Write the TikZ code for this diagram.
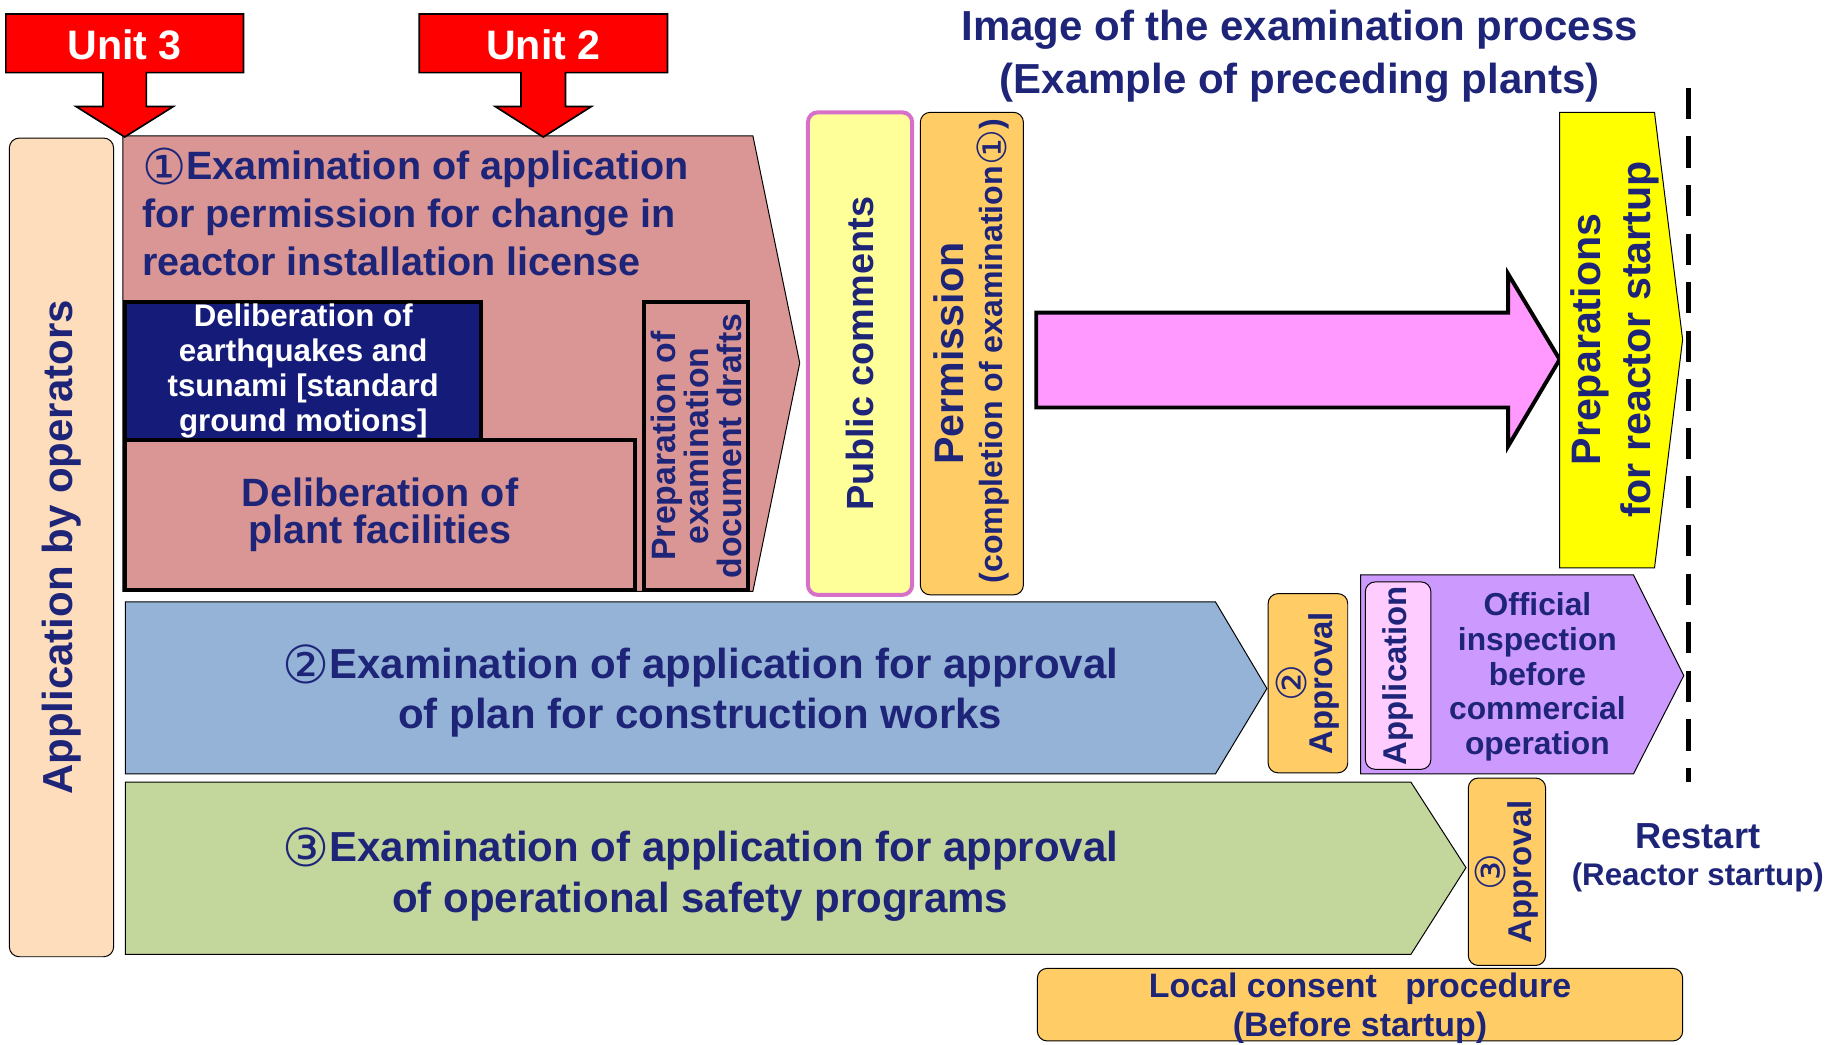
\documentclass[tikz,border=0pt]{standalone}
\usepackage{fontspec}
\setmainfont{Liberation Sans}
\newfontfamily\circfont{DejaVu Sans}
\usepackage{tikz}
\usetikzlibrary{positioning}

\definecolor{navytext}{RGB}{30,37,120}
\definecolor{quakenavy}{RGB}{21,27,120}
\definecolor{unitred}{RGB}{255,0,0}
\definecolor{peach}{RGB}{253,221,187}
\definecolor{rose}{RGB}{217,150,148}
\definecolor{planblue}{RGB}{149,179,215}
\definecolor{safegreen}{RGB}{195,214,155}
\definecolor{paleyellow}{RGB}{255,255,153}
\definecolor{orchidline}{RGB}{215,112,200}
\definecolor{apricot}{RGB}{255,204,102}
\definecolor{pinkarrow}{RGB}{255,153,255}
\definecolor{lilac}{RGB}{204,153,255}
\definecolor{palepink}{RGB}{255,204,255}
\definecolor{startyellow}{RGB}{255,255,0}

\newcommand{\fsize}[2]{\fontsize{#1}{#2}\selectfont}
\newcommand{\cnum}[1]{{\circfont\mdseries\raisebox{-0.12em}{\scalebox{1.25}{#1}}}}

\begin{document}
\begin{tikzpicture}[x=0.025cm, y=-0.025cm,
plainbox/.style={draw=black, line width=0.6pt, inner sep=0pt},
roundbox/.style={plainbox, rounded corners=6pt},
heavybox/.style={draw=black, line width=2.4pt, inner sep=0pt},
navytxt/.style={text=navytext, align=center, inner sep=0pt},
unitarrow/.style={draw=black, line width=1pt, fill=unitred}
]
\useasboundingbox (0,0) rectangle (1568,892);

%Title
\node[navytxt, font=\bfseries\fsize{25.5}{32.5}] (title) at (1110,48)
  {Image of the examination process\\(Example of preceding plants)};

%Application by operators
\node[roundbox, fill=peach, rotate=90, minimum width=17.475cm, minimum height=2.225cm,
  text=navytext, font=\bfseries\fsize{25.5}{30}] (appl) at (52.5,467.5) {Application by operators};

%Examination 1
\draw[plainbox, fill=rose] (105,116) -- (643,116) -- (683,310) -- (643,505) -- (105,505) -- cycle;
\node[navytxt, align=left, anchor=west, font=\bfseries\fsize{24}{29}] (exam1) at (121,181)
  {\cnum{①}Examination of application\\for permission for change in\\reactor installation license};
\node[heavybox, fill=quakenavy, minimum width=7.6cm, minimum height=2.95cm,
  text=white, align=center, font=\bfseries\fsize{19}{21.3}] (quake) at (259,317)
  {Deliberation of\\earthquakes and\\tsunami [standard\\ground motions]};
\node[heavybox, fill=rose, minimum width=10.875cm, minimum height=3.2cm,
  text=navytext, align=center, font=\bfseries\fsize{24}{22.5}] (plant) at (324.5,440)
  {Deliberation of\\plant facilities};
\node[heavybox, fill=rose, rotate=90, minimum width=6.15cm, minimum height=2.225cm,
  text=navytext, align=center, font=\bfseries\fsize{20.5}{20}] (drafts) at (594.5,381)
  {Preparation of\\examination\\document drafts};

%Public comments and permission
\node[roundbox, draw=orchidline, line width=2.4pt, fill=paleyellow, rotate=90,
  minimum width=10.3cm, minimum height=2.225cm,
  text=navytext, font=\bfseries\fsize{23}{28}] (public) at (734.5,302) {Public comments};
\node[roundbox, fill=apricot, rotate=90, minimum width=10.3cm, minimum height=2.2cm] (permit) at (830,302) {};
\node[navytxt, rotate=90, font=\bfseries\fsize{25}{30}] (permtxt) at (810,302) {Permission};
\node[navytxt, rotate=90, font=\bfseries\fsize{19.5}{24}] (permsub) at (848,300)
  {(completion of examination\cnum{①})};

%Arrow to startup
\draw[draw=black, line width=2.4pt, fill=pinkarrow] (885,267) -- (1288,267) -- (1288,234)
  -- (1332,307) -- (1288,381) -- (1288,348) -- (885,348) -- cycle;
\draw[plainbox, fill=startyellow] (1332,96) -- (1413,96) -- (1437,290) -- (1413,485) -- (1332,485) -- cycle;
\node[navytxt, rotate=90, font=\bfseries\fsize{25}{30.5}] (startprep) at (1379,290)
  {Preparations\\for reactor startup};

%Restart line
\coordinate (dtop) at (1442,75);
\coordinate (dbot) at (1442,668);
\draw[line width=3pt, dash pattern=on 19pt off 10.5pt] (dtop) -- (dbot);

%Examination 2
\draw[plainbox, fill=planblue] (107,514) -- (1038,514) -- (1082,588) -- (1038,661) -- (107,661) -- cycle;
\node[navytxt, font=\bfseries\fsize{25.5}{30.5}] (exam2) at (598,590)
  {\cnum{②}Examination of application for approval\\of plan for construction works};
\node[roundbox, fill=apricot, rotate=90, minimum width=3.825cm, minimum height=1.7cm,
  text=navytext, align=center, font=\bfseries\fsize{20}{14}] (appr2) at (1117,583.5)
  {\cnum{②}\\Approval};

%Official inspection
\draw[plainbox, fill=lilac] (1162,491) -- (1395,491) -- (1438,577) -- (1395,661) -- (1162,661) -- cycle;
\node[roundbox, fill=palepink, rotate=90, minimum width=4cm, minimum height=1.4cm,
  text=navytext, font=\bfseries\fsize{20}{24}] (insapp) at (1194,577) {Application};
\node[navytxt, font=\bfseries\fsize{19.3}{21}] (inspect) at (1313,578)
  {Official\\inspection\\before\\commercial\\operation};

%Examination 3
\draw[plainbox, fill=safegreen] (107,668) -- (1205,668) -- (1252,741) -- (1205,815) -- (107,815) -- cycle;
\node[navytxt, font=\bfseries\fsize{25.5}{31}] (exam3) at (598,747)
  {\cnum{③}Examination of application for approval\\of operational safety programs};
\node[roundbox, fill=apricot, rotate=90, minimum width=4cm, minimum height=1.65cm,
  text=navytext, align=center, font=\bfseries\fsize{20}{14}] (appr3) at (1287,744.5)
  {\cnum{③}\\Approval};

%Restart
\node[navytxt, font=\bfseries\fsize{22}{26}] (restart) at (1450,714) {Restart};
\node[navytxt, font=\bfseries\fsize{19}{23}] (restartsub) [below=8pt of restart] {(Reactor startup)};

%Local consent
\node[roundbox, fill=apricot, minimum width=13.775cm, minimum height=1.55cm,
  text=navytext, align=center, font=\bfseries\fsize{20.6}{24}] (consent) at (1161.5,858)
  {};
\node[navytxt, font=\bfseries\fsize{20.6}{24}] (consenttxt) at (1161.5,861)
  {Local consent\ \ \ procedure\\(Before startup)};

%Units
\draw[unitarrow] (5,12) -- (208,12) -- (208,62) -- (125,62) -- (125,91) -- (148,91)
  -- (106.5,117) -- (65,91) -- (88,91) -- (88,62) -- (5,62) -- cycle;
\node[text=white, inner sep=0pt, font=\bfseries\fsize{25}{30}] (unit3) at (106.5,38) {Unit 3};
\draw[unitarrow] (358,12) -- (570,12) -- (570,62) -- (483,62) -- (483,91) -- (505,91)
  -- (464,117) -- (423,91) -- (445,91) -- (445,62) -- (358,62) -- cycle;
\node[text=white, inner sep=0pt, font=\bfseries\fsize{25}{30}] (unit2) at (464,38) {Unit 2};
\end{tikzpicture}
\end{document}
